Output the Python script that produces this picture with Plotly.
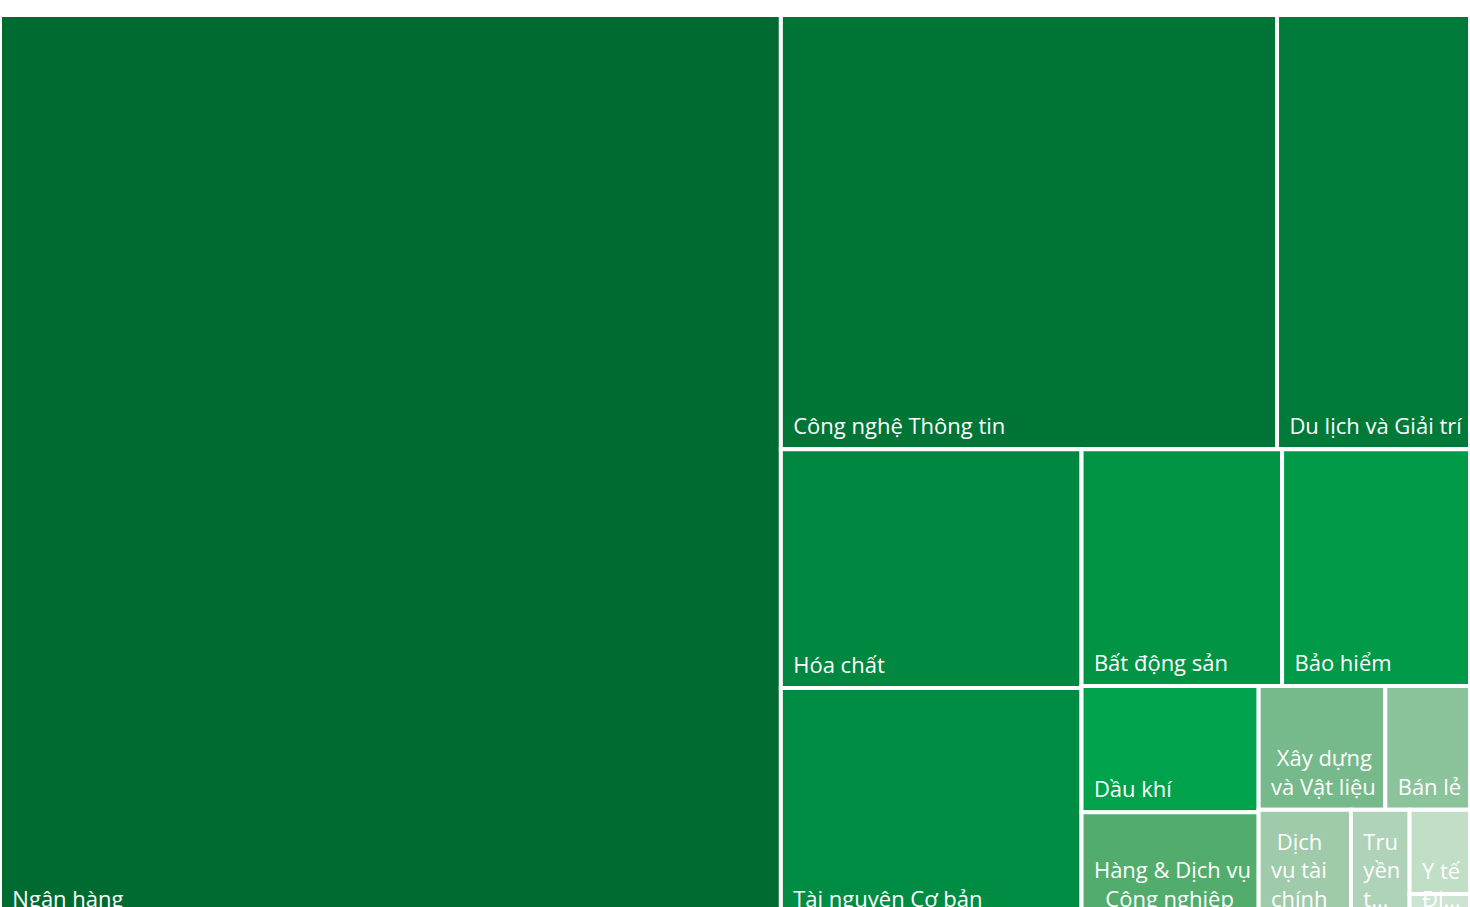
import plotly.graph_objects as go

sectors = [
    "Ngân hàng", "Công nghệ Thông tin", "Du lịch và Giải trí", "Hóa chất",
    "Tài nguyên Cơ bản", "Bất động sản", "Bảo hiểm", "Dầu khí",
    "Hàng & Dịch vụ Công nghiệp", "Xây dựng và Vật liệu", "Bán lẻ",
    "Dịch vụ tài chính", "Truyền thông", "Y tế", "Điện, nước & xăng dầu khí đốt",
]
values = [710, 216, 84, 72, 70.5, 47.6, 44.6, 22.4, 19.5, 15.7, 10.5, 10.4, 6.6, 5.1, 1.7]
labels_wrapped = [
    "Ngân hàng", "Công nghệ Thông tin", "Du lịch và Giải trí", "Hóa chất",
    "Tài nguyên Cơ bản", "Bất động sản", "Bảo hiểm", "Dầu khí",
    "Hàng & Dịch vụ<br>\u00a0\u00a0Công nghiệp", "\u00a0Xây dựng<br>và Vật liệu", "Bán lẻ",
    "\u00a0Dịch<br>vụ tài<br>chính", "Tru<br>yền<br>t…", "Y tế", "Đi…",
]

colors = [
    "#006b30", "#007535", "#007a38", "#008840", "#008c42", "#009444", "#009a48",
    "#00a34b", "#52ad6c", "#76b98a", "#8bc39b", "#9fcbab", "#afd3b8", "#c1dec6", "#cce4d1",
]

PAD = "\u00a0\u2009"
TAIL = '<span style="font-size:42px">\u00a0</span>'
texts = ["<br>".join(PAD + line for line in t.split("<br>")) + TAIL for t in labels_wrapped]

fig = go.Figure(go.Treemap(
    labels=sectors,
    parents=[""] * len(sectors),
    values=values,
    text=texts,
    texttemplate="%{text}",
    textposition="bottom left",
    textfont=dict(family="Open Sans", size=22, color="white"),
    marker=dict(colors=colors, line=dict(color="white", width=4),
                pad=dict(t=0, l=0, r=0, b=0)),
    tiling=dict(pad=0, packing="squarify", squarifyratio=1.03),
    pathbar=dict(visible=False),
    sort=True,
    hoverinfo="label+value",
))
fig.update_layout(
    width=1470, height=922,
    margin=dict(l=0, r=0, t=15, b=0),
    paper_bgcolor="white",
    uniformtext=dict(minsize=22, mode="show"),
)
fig.write_html(
    "out.html",
    config={"displayModeBar": False},
    post_script="document.body.style.margin='0';document.body.style.overflow='hidden';",
)
